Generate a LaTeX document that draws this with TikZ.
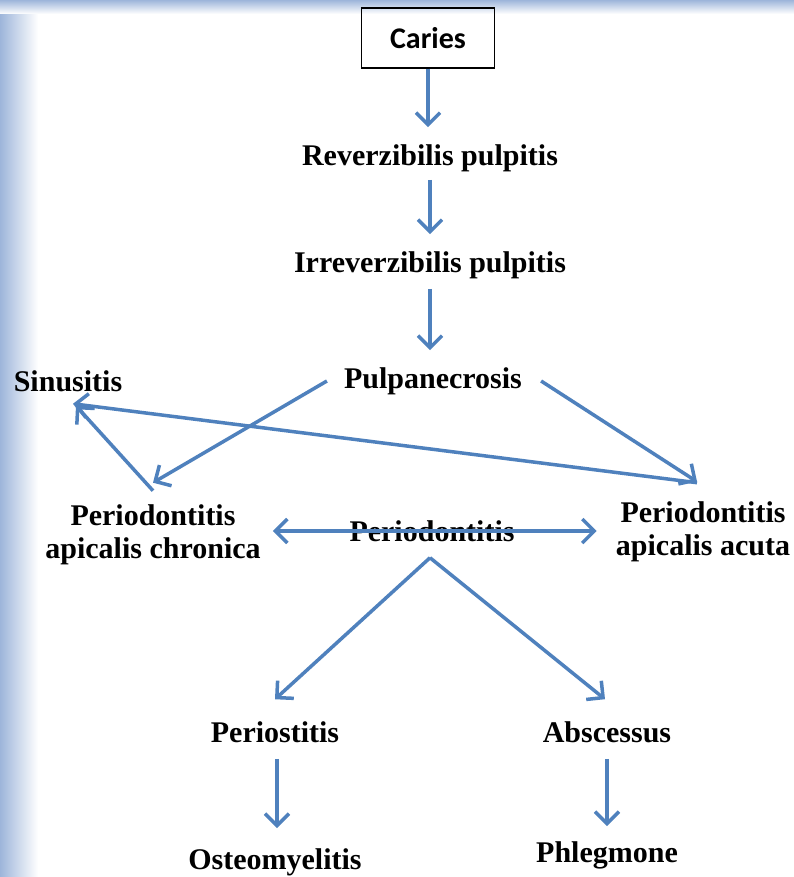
\documentclass[tikz,border=0pt]{standalone}
\usepackage{fontspec}
\setmainfont{Liberation Serif}
\newfontfamily\carlito{Carlito}
\usetikzlibrary{arrows.meta,positioning}
\definecolor{arrowblue}{HTML}{4F81BD}
\definecolor{edgeblue}{HTML}{9DB5DA}
\tikzset{
  lbl/.style={font=\bfseries\fontsize{30}{33}\selectfont, align=center, inner sep=0pt},
  arr/.style={draw=arrowblue, line width=3.5pt, -{Straight Barb[length=12pt,width=24pt]}},
  dbl/.style={arr, {Straight Barb[length=12pt,width=24pt]}-{Straight Barb[length=12pt,width=24pt]}}
}
\begin{document}
\begin{tikzpicture}[x=1pt,y=-1pt]
\useasboundingbox (0,0) rectangle (794,877);
\fill[white] (0,0) rectangle (794,877);
\shade[left color=edgeblue, right color=white] (0,0) rectangle (38,877);
\shade[top color=edgeblue, bottom color=white] (0,0) rectangle (794,14);
\node[draw, line width=1.5pt, minimum width=133pt, minimum height=60pt, font=\carlito\bfseries\fontsize{30}{33}\selectfont] (caries) at (428,38) {Caries};
\node[lbl] (reverz) at (430,158) {Reverzibilis pulpitis};
\node[lbl] (irrev) at (430,265) {Irreverzibilis pulpitis};
\node[lbl] (pulp) at (433,381) {Pulpanecrosis};
\node[lbl] (sinus) at (68,381) {Sinusitis};
\node[lbl] (chron) at (153,535) {Periodontitis\\apicalis chronica};
\node[lbl] (acuta) at (703,532) {Periodontitis\\apicalis acuta};
\begin{scope}
\clip (330,500) rectangle (540,542);
\node[lbl] (perio) at (432,531) {Periodontitis};
\end{scope}
\node[lbl] (periost) at (275,732) {Periostitis};
\node[lbl] (absc) at (607,732) {Abscessus};
\node[lbl] (osteo) at (275,862) {Osteomyelitis};
\node[lbl] (phleg) at (607,855) {Phlegmone};
\draw[arr] (caries) -- ([yshift=17pt]reverz.north -| caries);
\draw[arr] ([yshift=-8pt]reverz.south) -- ([yshift=17pt]irrev.north);
\draw[arr] ([yshift=-10pt]irrev.south) -- ([yshift=17pt]irrev.north |- pulp.north);
\draw[arr] ([xshift=-17pt]pulp.west) -- ([yshift=22pt]chron.north);
\draw[arr] ([xshift=19pt]pulp.east) -- ([xshift=-6pt,yshift=20pt]acuta.north);
\draw[arr] ([xshift=-6pt,yshift=19pt]acuta.north) -- ([xshift=5pt,yshift=-12pt]sinus.south);
\draw[arr] ([yshift=14pt]chron.north) -- ([xshift=8pt,yshift=-14pt]sinus.south);
\draw[dbl] ([xshift=12pt,yshift=4pt]chron.east) -- ([xshift=-19pt,yshift=4pt]chron.east -| acuta.west);
\draw[arr] ([xshift=-2pt,yshift=-16pt]perio.south) -- ([yshift=22pt]periost.north);
\draw[arr] ([xshift=-2pt,yshift=-16pt]perio.south) -- ([xshift=-2pt,yshift=22pt]absc.north);
\draw[arr] ([xshift=2pt,yshift=-16pt]periost.south) -- ([xshift=2pt,yshift=20pt]osteo.north);
\draw[arr] ([yshift=-16pt]absc.south) -- ([yshift=15pt]phleg.north);
\end{tikzpicture}
\end{document}
